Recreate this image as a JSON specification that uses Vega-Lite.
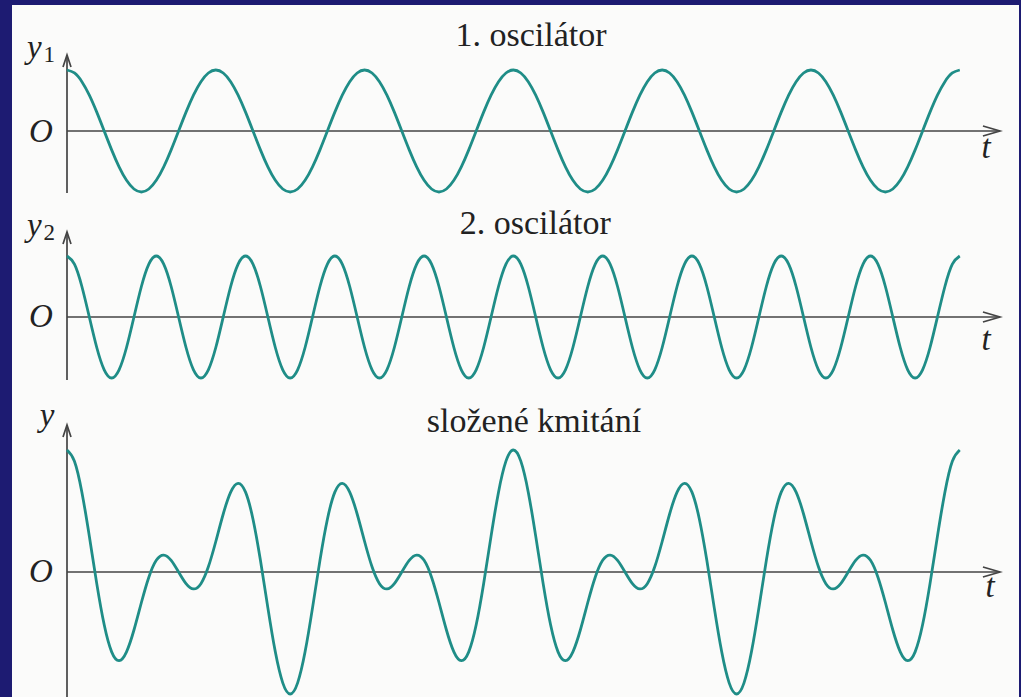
{
  "$schema": "https://vega.github.io/schema/vega-lite/v6.json",
  "background": "#1d1b72",
  "padding": {"left": 12, "top": 5, "right": 2, "bottom": 0},
  "spacing": 0,
  "bounds": "flush",
  "config": {"view": {"stroke": null, "fill": "#fbfbfa"}},
  "datasets": {
    "curve": [
      {"t":0,"y1":1,"y2":1,"y":2},
      {"t":0.15,"y1":0.951,"y2":0.866,"y":1.817},
      {"t":0.3,"y1":0.809,"y2":0.5,"y":1.309},
      {"t":0.45,"y1":0.588,"y2":0,"y":0.588},
      {"t":0.6,"y1":0.309,"y2":-0.5,"y":-0.191},
      {"t":0.75,"y1":0,"y2":-0.866,"y":-0.866},
      {"t":0.9,"y1":-0.309,"y2":-1,"y":-1.309},
      {"t":1.05,"y1":-0.588,"y2":-0.866,"y":-1.454},
      {"t":1.2,"y1":-0.809,"y2":-0.5,"y":-1.309},
      {"t":1.35,"y1":-0.951,"y2":0,"y":-0.951},
      {"t":1.5,"y1":-1,"y2":0.5,"y":-0.5},
      {"t":1.65,"y1":-0.951,"y2":0.866,"y":-0.085},
      {"t":1.8,"y1":-0.809,"y2":1,"y":0.191},
      {"t":1.95,"y1":-0.588,"y2":0.866,"y":0.278},
      {"t":2.1,"y1":-0.309,"y2":0.5,"y":0.191},
      {"t":2.25,"y1":0,"y2":0,"y":0},
      {"t":2.4,"y1":0.309,"y2":-0.5,"y":-0.191},
      {"t":2.55,"y1":0.588,"y2":-0.866,"y":-0.278},
      {"t":2.7,"y1":0.809,"y2":-1,"y":-0.191},
      {"t":2.85,"y1":0.951,"y2":-0.866,"y":0.085},
      {"t":3,"y1":1,"y2":-0.5,"y":0.5},
      {"t":3.15,"y1":0.951,"y2":0,"y":0.951},
      {"t":3.3,"y1":0.809,"y2":0.5,"y":1.309},
      {"t":3.45,"y1":0.588,"y2":0.866,"y":1.454},
      {"t":3.6,"y1":0.309,"y2":1,"y":1.309},
      {"t":3.75,"y1":0,"y2":0.866,"y":0.866},
      {"t":3.9,"y1":-0.309,"y2":0.5,"y":0.191},
      {"t":4.05,"y1":-0.588,"y2":0,"y":-0.588},
      {"t":4.2,"y1":-0.809,"y2":-0.5,"y":-1.309},
      {"t":4.35,"y1":-0.951,"y2":-0.866,"y":-1.817},
      {"t":4.5,"y1":-1,"y2":-1,"y":-2},
      {"t":4.65,"y1":-0.951,"y2":-0.866,"y":-1.817},
      {"t":4.8,"y1":-0.809,"y2":-0.5,"y":-1.309},
      {"t":4.95,"y1":-0.588,"y2":0,"y":-0.588},
      {"t":5.1,"y1":-0.309,"y2":0.5,"y":0.191},
      {"t":5.25,"y1":0,"y2":0.866,"y":0.866},
      {"t":5.4,"y1":0.309,"y2":1,"y":1.309},
      {"t":5.55,"y1":0.588,"y2":0.866,"y":1.454},
      {"t":5.7,"y1":0.809,"y2":0.5,"y":1.309},
      {"t":5.85,"y1":0.951,"y2":0,"y":0.951},
      {"t":6,"y1":1,"y2":-0.5,"y":0.5},
      {"t":6.15,"y1":0.951,"y2":-0.866,"y":0.085},
      {"t":6.3,"y1":0.809,"y2":-1,"y":-0.191},
      {"t":6.45,"y1":0.588,"y2":-0.866,"y":-0.278},
      {"t":6.6,"y1":0.309,"y2":-0.5,"y":-0.191},
      {"t":6.75,"y1":0,"y2":0,"y":0},
      {"t":6.9,"y1":-0.309,"y2":0.5,"y":0.191},
      {"t":7.05,"y1":-0.588,"y2":0.866,"y":0.278},
      {"t":7.2,"y1":-0.809,"y2":1,"y":0.191},
      {"t":7.35,"y1":-0.951,"y2":0.866,"y":-0.085},
      {"t":7.5,"y1":-1,"y2":0.5,"y":-0.5},
      {"t":7.65,"y1":-0.951,"y2":0,"y":-0.951},
      {"t":7.8,"y1":-0.809,"y2":-0.5,"y":-1.309},
      {"t":7.95,"y1":-0.588,"y2":-0.866,"y":-1.454},
      {"t":8.1,"y1":-0.309,"y2":-1,"y":-1.309},
      {"t":8.25,"y1":0,"y2":-0.866,"y":-0.866},
      {"t":8.4,"y1":0.309,"y2":-0.5,"y":-0.191},
      {"t":8.55,"y1":0.588,"y2":0,"y":0.588},
      {"t":8.7,"y1":0.809,"y2":0.5,"y":1.309},
      {"t":8.85,"y1":0.951,"y2":0.866,"y":1.817},
      {"t":9,"y1":1,"y2":1,"y":2},
      {"t":9.15,"y1":0.951,"y2":0.866,"y":1.817},
      {"t":9.3,"y1":0.809,"y2":0.5,"y":1.309},
      {"t":9.45,"y1":0.588,"y2":0,"y":0.588},
      {"t":9.6,"y1":0.309,"y2":-0.5,"y":-0.191},
      {"t":9.75,"y1":0,"y2":-0.866,"y":-0.866},
      {"t":9.9,"y1":-0.309,"y2":-1,"y":-1.309},
      {"t":10.05,"y1":-0.588,"y2":-0.866,"y":-1.454},
      {"t":10.2,"y1":-0.809,"y2":-0.5,"y":-1.309},
      {"t":10.35,"y1":-0.951,"y2":0,"y":-0.951},
      {"t":10.5,"y1":-1,"y2":0.5,"y":-0.5},
      {"t":10.65,"y1":-0.951,"y2":0.866,"y":-0.085},
      {"t":10.8,"y1":-0.809,"y2":1,"y":0.191},
      {"t":10.95,"y1":-0.588,"y2":0.866,"y":0.278},
      {"t":11.1,"y1":-0.309,"y2":0.5,"y":0.191},
      {"t":11.25,"y1":0,"y2":0,"y":0},
      {"t":11.4,"y1":0.309,"y2":-0.5,"y":-0.191},
      {"t":11.55,"y1":0.588,"y2":-0.866,"y":-0.278},
      {"t":11.7,"y1":0.809,"y2":-1,"y":-0.191},
      {"t":11.85,"y1":0.951,"y2":-0.866,"y":0.085},
      {"t":12,"y1":1,"y2":-0.5,"y":0.5},
      {"t":12.15,"y1":0.951,"y2":0,"y":0.951},
      {"t":12.3,"y1":0.809,"y2":0.5,"y":1.309},
      {"t":12.45,"y1":0.588,"y2":0.866,"y":1.454},
      {"t":12.6,"y1":0.309,"y2":1,"y":1.309},
      {"t":12.75,"y1":0,"y2":0.866,"y":0.866},
      {"t":12.9,"y1":-0.309,"y2":0.5,"y":0.191},
      {"t":13.05,"y1":-0.588,"y2":0,"y":-0.588},
      {"t":13.2,"y1":-0.809,"y2":-0.5,"y":-1.309},
      {"t":13.35,"y1":-0.951,"y2":-0.866,"y":-1.817},
      {"t":13.5,"y1":-1,"y2":-1,"y":-2},
      {"t":13.65,"y1":-0.951,"y2":-0.866,"y":-1.817},
      {"t":13.8,"y1":-0.809,"y2":-0.5,"y":-1.309},
      {"t":13.95,"y1":-0.588,"y2":0,"y":-0.588},
      {"t":14.1,"y1":-0.309,"y2":0.5,"y":0.191},
      {"t":14.25,"y1":0,"y2":0.866,"y":0.866},
      {"t":14.4,"y1":0.309,"y2":1,"y":1.309},
      {"t":14.55,"y1":0.588,"y2":0.866,"y":1.454},
      {"t":14.7,"y1":0.809,"y2":0.5,"y":1.309},
      {"t":14.85,"y1":0.951,"y2":0,"y":0.951},
      {"t":15,"y1":1,"y2":-0.5,"y":0.5},
      {"t":15.15,"y1":0.951,"y2":-0.866,"y":0.085},
      {"t":15.3,"y1":0.809,"y2":-1,"y":-0.191},
      {"t":15.45,"y1":0.588,"y2":-0.866,"y":-0.278},
      {"t":15.6,"y1":0.309,"y2":-0.5,"y":-0.191},
      {"t":15.75,"y1":0,"y2":0,"y":0},
      {"t":15.9,"y1":-0.309,"y2":0.5,"y":0.191},
      {"t":16.05,"y1":-0.588,"y2":0.866,"y":0.278},
      {"t":16.2,"y1":-0.809,"y2":1,"y":0.191},
      {"t":16.35,"y1":-0.951,"y2":0.866,"y":-0.085},
      {"t":16.5,"y1":-1,"y2":0.5,"y":-0.5},
      {"t":16.65,"y1":-0.951,"y2":0,"y":-0.951},
      {"t":16.8,"y1":-0.809,"y2":-0.5,"y":-1.309},
      {"t":16.95,"y1":-0.588,"y2":-0.866,"y":-1.454},
      {"t":17.1,"y1":-0.309,"y2":-1,"y":-1.309},
      {"t":17.25,"y1":0,"y2":-0.866,"y":-0.866},
      {"t":17.4,"y1":0.309,"y2":-0.5,"y":-0.191},
      {"t":17.55,"y1":0.588,"y2":0,"y":0.588},
      {"t":17.7,"y1":0.809,"y2":0.5,"y":1.309},
      {"t":17.85,"y1":0.951,"y2":0.866,"y":1.817},
      {"t":18,"y1":1,"y2":1,"y":2}
    ]
  },
  "vconcat": [
    {
      "width": 1007,
      "height": 200,
      "encoding": {
        "x": {"field": "t", "type": "quantitative", "scale": {"domain": [-1.1089, 19.194], "nice": false, "zero": false}, "axis": null},
        "y": {"field": "y1", "type": "quantitative", "scale": {"domain": [-1.2131, 2.0656], "nice": false, "zero": false}, "axis": null}
      },
      "layer": [
        {"data": {"values": [{"t": 0, "t2": 18.81, "y1": 0}]}, "mark": {"type": "rule", "color": "#444444", "strokeWidth": 1.7}, "encoding": {"x2": {"field": "t2"}}},
        {"data": {"values": [{"t": 0, "y1": -1.016, "y1b": 1.246}]}, "mark": {"type": "rule", "color": "#444444", "strokeWidth": 1.7}, "encoding": {"y2": {"field": "y1b"}}},
        {"data": {"values": [{"t": 18.81, "y1": 0, "dir": "right"}, {"t": 0, "y1": 1.246, "dir": "up"}]},
         "mark": {"type": "point", "filled": false, "color": "#444444", "strokeWidth": 1.7, "opacity": 1, "size": 1600},
         "encoding": {"shape": {"field": "dir", "type": "nominal", "scale": {"domain": ["right", "up"], "range": ["M -0.85 -0.25 L 0 0 L -0.85 0.25", "M -0.2 0.6 L 0 0 L 0.2 0.6"]}, "legend": null}}},
        {"data": {"name": "curve"}, "mark": {"type": "line", "interpolate": "natural", "color": "#1f8d87", "strokeWidth": 2.8}},
        {"data": {"values": [{"t": -0.66, "y1": 1.197, "label": "y"}, {"t": -0.524, "y1": -0.18, "label": "O"}, {"t": 18.53, "y1": -0.443, "label": "t"}]},
         "mark": {"type": "text", "font": "Liberation Serif", "fontStyle": "italic", "fontSize": 33, "align": "center", "baseline": "alphabetic", "color": "#222222"},
         "encoding": {"text": {"field": "label"}}},
        {"data": {"values": [{"t": -0.36, "y1": 1.131, "label": "1"}]},
         "mark": {"type": "text", "font": "Liberation Serif", "fontSize": 23, "align": "center", "baseline": "alphabetic", "color": "#222222"},
         "encoding": {"text": {"field": "label"}}},
        {"data": {"values": [{"t": 9.355, "y1": 1.393, "label": "1. oscilátor"}]},
         "mark": {"type": "text", "font": "Liberation Serif", "fontSize": 34, "align": "center", "baseline": "alphabetic", "color": "#222222"},
         "encoding": {"text": {"field": "label"}}}
      ]
    },
    {
      "width": 1007,
      "height": 195,
      "encoding": {
        "x": {"field": "t", "type": "quantitative", "scale": {"domain": [-1.1089, 19.194], "nice": false, "zero": false}, "axis": null},
        "y": {"field": "y2", "type": "quantitative", "scale": {"domain": [-1.3607, 1.836], "nice": false, "zero": false}, "axis": null}
      },
      "layer": [
        {"data": {"values": [{"t": 0, "t2": 18.81, "y2": 0}]}, "mark": {"type": "rule", "color": "#444444", "strokeWidth": 1.7}, "encoding": {"x2": {"field": "t2"}}},
        {"data": {"values": [{"t": 0, "y2": -1.033, "y2b": 1.393}]}, "mark": {"type": "rule", "color": "#444444", "strokeWidth": 1.7}, "encoding": {"y2": {"field": "y2b"}}},
        {"data": {"values": [{"t": 18.81, "y2": 0, "dir": "right"}, {"t": 0, "y2": 1.393, "dir": "up"}]},
         "mark": {"type": "point", "filled": false, "color": "#444444", "strokeWidth": 1.7, "opacity": 1, "size": 1600},
         "encoding": {"shape": {"field": "dir", "type": "nominal", "scale": {"domain": ["right", "up"], "range": ["M -0.85 -0.25 L 0 0 L -0.85 0.25", "M -0.2 0.6 L 0 0 L 0.2 0.6"]}, "legend": null}}},
        {"data": {"name": "curve"}, "mark": {"type": "line", "interpolate": "natural", "color": "#1f8d87", "strokeWidth": 2.8}},
        {"data": {"values": [{"t": -0.66, "y2": 1.328, "label": "y"}, {"t": -0.524, "y2": -0.164, "label": "O"}, {"t": 18.53, "y2": -0.541, "label": "t"}]},
         "mark": {"type": "text", "font": "Liberation Serif", "fontStyle": "italic", "fontSize": 33, "align": "center", "baseline": "alphabetic", "color": "#222222"},
         "encoding": {"text": {"field": "label"}}},
        {"data": {"values": [{"t": -0.36, "y2": 1.262, "label": "2"}]},
         "mark": {"type": "text", "font": "Liberation Serif", "fontSize": 23, "align": "center", "baseline": "alphabetic", "color": "#222222"},
         "encoding": {"text": {"field": "label"}}},
        {"data": {"values": [{"t": 9.44, "y2": 1.36, "label": "2. oscilátor"}]},
         "mark": {"type": "text", "font": "Liberation Serif", "fontSize": 34, "align": "center", "baseline": "alphabetic", "color": "#222222"},
         "encoding": {"text": {"field": "label"}}}
      ]
    },
    {
      "width": 1007,
      "height": 297,
      "encoding": {
        "x": {"field": "t", "type": "quantitative", "scale": {"domain": [-1.1089, 19.194], "nice": false, "zero": false}, "axis": null},
        "y": {"field": "y", "type": "quantitative", "scale": {"domain": [-2.0492, 2.8197], "nice": false, "zero": false}, "axis": null}
      },
      "layer": [
        {"data": {"values": [{"t": 0, "t2": 18.81, "y": 0}]}, "mark": {"type": "rule", "color": "#444444", "strokeWidth": 1.7}, "encoding": {"x2": {"field": "t2"}}},
        {"data": {"values": [{"t": 0, "y": -2.0492, "yb": 2.41}]}, "mark": {"type": "rule", "color": "#444444", "strokeWidth": 1.7}, "encoding": {"y2": {"field": "yb"}}},
        {"data": {"values": [{"t": 18.81, "y": 0, "dir": "right"}, {"t": 0, "y": 2.41, "dir": "up"}]},
         "mark": {"type": "point", "filled": false, "color": "#444444", "strokeWidth": 1.7, "opacity": 1, "size": 1600},
         "encoding": {"shape": {"field": "dir", "type": "nominal", "scale": {"domain": ["right", "up"], "range": ["M -0.85 -0.25 L 0 0 L -0.85 0.25", "M -0.2 0.6 L 0 0 L 0.2 0.6"]}, "legend": null}}},
        {"data": {"name": "curve"}, "mark": {"type": "line", "interpolate": "natural", "color": "#1f8d87", "strokeWidth": 2.8}},
        {"data": {"values": [{"t": -0.403, "y": 2.393, "label": "y"}, {"t": -0.524, "y": -0.164, "label": "O"}, {"t": 18.61, "y": -0.41, "label": "t"}]},
         "mark": {"type": "text", "font": "Liberation Serif", "fontStyle": "italic", "fontSize": 33, "align": "center", "baseline": "alphabetic", "color": "#222222"},
         "encoding": {"text": {"field": "label"}}},
        {"data": {"values": [{"t": 9.415, "y": 2.295, "label": "složené kmitání"}]},
         "mark": {"type": "text", "font": "Liberation Serif", "fontSize": 34, "align": "center", "baseline": "alphabetic", "color": "#222222"},
         "encoding": {"text": {"field": "label"}}}
      ]
    }
  ]
}
